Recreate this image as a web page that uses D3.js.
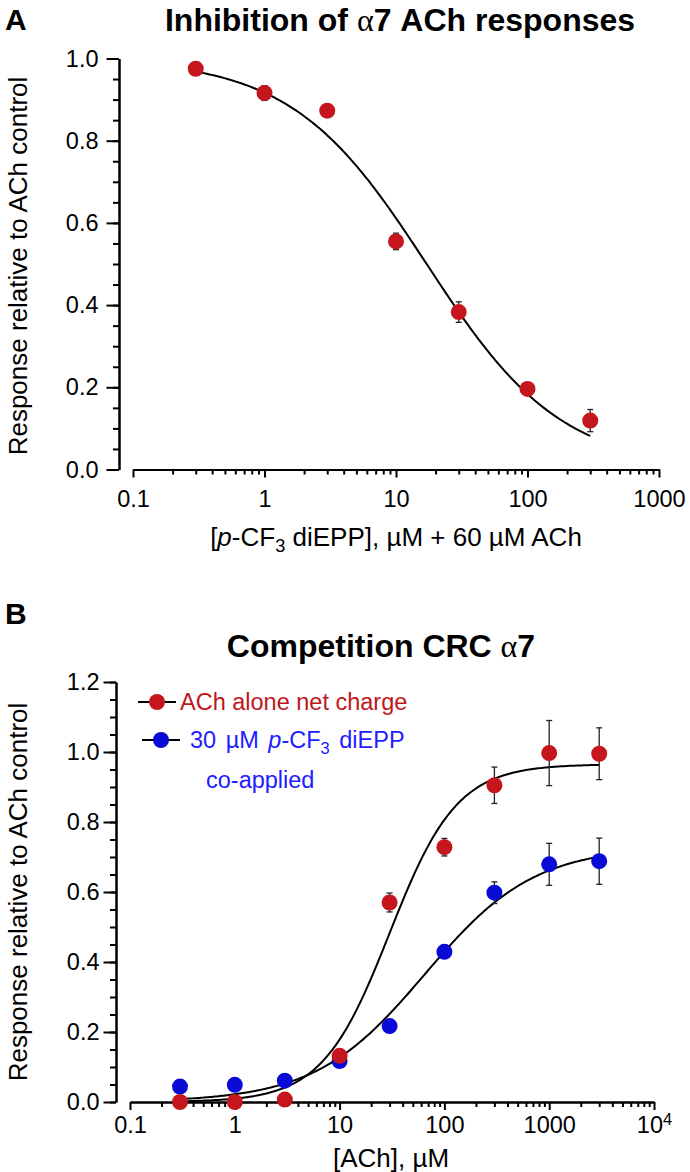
<!DOCTYPE html>
<html><head><meta charset="utf-8">
<script src="https://cdn.jsdelivr.net/npm/d3@7"></script>
<style>
body{margin:0;background:#fff;}
svg text{font-family:"Liberation Sans",Arial,Helvetica,sans-serif;fill:#000;}
.axis path,.axis line{stroke:#000;stroke-width:2;}
</style></head><body>
<svg id="c" width="690" height="1172"></svg>
<script>
// ---------- Panel A data ----------
const concA = [0.3, 1, 3, 10, 30, 100, 300];
const respA = [0.975, 0.916, 0.873, 0.555, 0.383, 0.196, 0.119];
const errA  = [0.013, 0.018, 0.0, 0.02, 0.025, 0.008, 0.027];
const fitA_ic50 = 17.1, fitA_hill = 0.845, fitA_top = 1.0;
const xTicksA = [0.1, 1, 10, 100, 1000];
const xTickLabelsA = ["0.1", "1", "10", "100", "1000"];
const yTicksA = [0, 0.2, 0.4, 0.6, 0.8, 1.0];

// ---------- Panel B data ----------
const concB = [0.3, 1, 3, 10, 30, 100, 300, 1000, 3000];
const achAlone    = [0.0, 0.0, 0.007, 0.132, 0.57, 0.728, 0.905, 0.997, 0.995];
const achAloneErr = [0, 0, 0, 0, 0.027, 0.025, 0.052, 0.093, 0.074];
const coApplied    = [0.044, 0.049, 0.061, 0.117, 0.217, 0.429, 0.598, 0.679, 0.688];
const coAppliedErr = [0, 0, 0, 0, 0, 0, 0.031, 0.06, 0.066];
const fitAlone_ec50 = 30, fitAlone_hill = 1.35, fitAlone_top = 0.965;
const fitCo_ec50 = 65, fitCo_hill = 0.83, fitCo_top = 0.73;
const xTicksB = [0.1, 1, 10, 100, 1000, 10000];
const xTickLabelsB = ["0.1", "1", "10", "100", "1000", "10^4"];
const yTicksB = [0, 0.2, 0.4, 0.6, 0.8, 1.0, 1.2];

const RED = "#c4161c", BLUE = "#0a0ad6";
const svg = d3.select("#c");

function minorLog(lo, hi){
  const out=[];
  for(let d=lo; d<hi; d*=10){ for(let k=2;k<=9;k++) out.push(d*k); }
  return out;
}
function logSamples(a,b,n){
  const la=Math.log10(a), lb=Math.log10(b);
  return d3.range(n+1).map(i=>Math.pow(10, la+(lb-la)*i/n));
}

function drawAxes(g, x, y, yAxisX, xTicks, xLabels, yTicks, yMax, opts){
  const y0 = y(0);
  g.append("g").attr("class","axis").attr("transform",`translate(${yAxisX},0)`)
    .call(d3.axisLeft(y).tickValues(d3.range(0, yMax+1e-9, 0.05)).tickSize(6).tickFormat("").tickSizeOuter(0));
  const ya = g.append("g").attr("class","axis").attr("transform",`translate(${yAxisX},0)`)
    .call(d3.axisLeft(y).tickValues(yTicks).tickSize(12.5).tickPadding(opts.yPad).tickFormat(d3.format(".1f")).tickSizeOuter(0));
  ya.selectAll("text").style("font-size", opts.tickFont+"px").style("font-family","Liberation Sans");
  const dom = x.domain();
  g.append("g").attr("class","axis").attr("transform",`translate(0,${y0})`)
    .call(d3.axisBottom(x).tickValues(minorLog(dom[0], dom[1])).tickSize(5).tickFormat("").tickSizeOuter(0));
  const xa = g.append("g").attr("class","axis").attr("transform",`translate(0,${y0})`)
    .call(d3.axisBottom(x).tickValues(xTicks).tickSize(8).tickPadding(opts.xPad)
      .tickFormat((d,i)=>xLabels[i]).tickSizeOuter(0));
  xa.selectAll("text").style("font-size", opts.tickFont+"px").style("font-family","Liberation Sans")
    .each(function(){
      const t=d3.select(this), s=t.text();
      if(s.indexOf("^")>0){
        const [b,e]=s.split("^");
        t.text(null);
        t.append("tspan").text(b);
        t.append("tspan").attr("dy","-0.45em").style("font-size","70%").text(e);
      }
    });
}

function drawSeries(g, x, y, xs, ys, es, color){
  const d = xs.map((v,i)=>({x:v,y:ys[i],e:es[i]}));
  const eb = g.append("g").attr("stroke","#222").attr("stroke-width",1.3);
  d.filter(p=>p.e>0).forEach(p=>{
    const cx=x(p.x), t=y(p.y+p.e), b=y(p.y-p.e);
    eb.append("line").attr("x1",cx).attr("x2",cx).attr("y1",t).attr("y2",b);
    eb.append("line").attr("x1",cx-3).attr("x2",cx+3).attr("y1",t).attr("y2",t);
    eb.append("line").attr("x1",cx-3).attr("x2",cx+3).attr("y1",b).attr("y2",b);
  });
  g.append("g").selectAll("circle").data(d).join("circle")
    .attr("cx",p=>x(p.x)).attr("cy",p=>y(p.y)).attr("r",8).attr("fill",color);
}

// ================= Panel A =================
{
  const g = svg.append("g");
  const x = d3.scaleLog().domain([0.1,1000]).range([133,659]);
  const y = d3.scaleLinear().domain([0,1]).range([469.5,58.5]);
  drawAxes(g, x, y, 119, xTicksA, xTickLabelsA, yTicksA, 1.0, {tickFont:23.5, yPad:8, xPad:13});
  const curve = logSamples(concA[0], concA[concA.length-1], 200)
    .map(c=>[c, fitA_top/(1+Math.pow(c/fitA_ic50, fitA_hill))]);
  g.append("path").datum(curve).attr("fill","none").attr("stroke","#000").attr("stroke-width",2)
    .attr("d", d3.line().x(d=>x(d[0])).y(d=>y(d[1])));
  drawSeries(g, x, y, concA, respA, errA, RED);

  svg.append("text").attr("x",5).attr("y",30)
    .style("font-weight","bold").style("font-size","30px").text("A");
  const t = svg.append("text").attr("x",400).attr("y",31).attr("text-anchor","middle")
    .style("font-weight","bold").style("font-size","32px");
  t.append("tspan").text("Inhibition of ");
  t.append("tspan").style("font-family","Liberation Serif").style("font-weight","normal").text("α");
  t.append("tspan").text("7 ACh responses");

  const xl = svg.append("text").attr("x",396).attr("y",546).attr("text-anchor","middle").style("font-size","26px");
  xl.append("tspan").text("[");
  xl.append("tspan").style("font-style","italic").text("p");
  xl.append("tspan").text("-CF");
  xl.append("tspan").attr("dy","0.35em").style("font-size","70%").text("3");
  xl.append("tspan").attr("dy","-0.245em").text(" diEPP], µM + 60 µM ACh");

  svg.append("text").attr("transform","translate(27,266) rotate(-90)").attr("text-anchor","middle")
    .style("font-size","26px").text("Response relative to ACh control");
}

// ================= Panel B =================
{
  const g = svg.append("g");
  const x = d3.scaleLog().domain([0.1,10000]).range([130,654]);
  const y = d3.scaleLinear().domain([0,1.2]).range([1102,682]);
  drawAxes(g, x, y, 116, xTicksB, xTickLabelsB, yTicksB, 1.2, {tickFont:23.5, yPad:4, xPad:6});
  const xsC = logSamples(concB[0], concB[concB.length-1], 240);
  const cA = xsC.map(c=>[c, fitAlone_top/(1+Math.pow(fitAlone_ec50/c, fitAlone_hill))]);
  const cC = xsC.map(c=>[c, fitCo_top/(1+Math.pow(fitCo_ec50/c, fitCo_hill))]);
  const ln = d3.line().x(d=>x(d[0])).y(d=>y(d[1]));
  g.append("path").datum(cA).attr("fill","none").attr("stroke","#000").attr("stroke-width",2).attr("d",ln);
  g.append("path").datum(cC).attr("fill","none").attr("stroke","#000").attr("stroke-width",2).attr("d",ln);
  drawSeries(g, x, y, concB, coApplied, coAppliedErr, BLUE);
  drawSeries(g, x, y, concB, achAlone, achAloneErr, RED);

  // legend
  const lg = svg.append("g");
  lg.append("line").attr("x1",138).attr("x2",176).attr("y1",702).attr("y2",702).attr("stroke","#000").attr("stroke-width",2);
  lg.append("circle").attr("cx",157).attr("cy",702).attr("r",8).attr("fill",RED);
  lg.append("text").attr("x",180).attr("y",710).style("font-size","23.5px").style("fill","#c0161c").text("ACh alone net charge");
  lg.append("line").attr("x1",142).attr("x2",180).attr("y1",740).attr("y2",740).attr("stroke","#000").attr("stroke-width",2);
  lg.append("circle").attr("cx",161).attr("cy",740).attr("r",8).attr("fill",BLUE);
  const bt = lg.append("text").attr("x",190).attr("y",748).style("font-size","23.5px").style("fill","#2020ff")
    .style("word-spacing","3px");
  bt.append("tspan").style("fill","#2020ff").text("30 µM ");
  bt.append("tspan").style("fill","#2020ff").style("font-style","italic").text("p");
  bt.append("tspan").style("fill","#2020ff").text("-CF");
  bt.append("tspan").style("fill","#2020ff").attr("dy","0.35em").style("font-size","70%").text("3");
  bt.append("tspan").style("fill","#2020ff").attr("dy","-0.245em").text(" diEPP");
  lg.append("text").attr("x",206).attr("y",788).style("font-size","23.5px").style("fill","#2020ff").text("co-applied");

  svg.append("text").attr("x",5).attr("y",624)
    .style("font-weight","bold").style("font-size","30px").text("B");
  const t = svg.append("text").attr("x",381).attr("y",657).attr("text-anchor","middle")
    .style("font-weight","bold").style("font-size","32px");
  t.append("tspan").text("Competition CRC ");
  t.append("tspan").style("font-family","Liberation Serif").style("font-weight","normal").text("α");
  t.append("tspan").text("7");

  svg.append("text").attr("x",391).attr("y",1167).attr("text-anchor","middle").style("font-size","26px").text("[ACh], µM");
  svg.append("text").attr("transform","translate(27,892) rotate(-90)").attr("text-anchor","middle")
    .style("font-size","26px").text("Response relative to ACh control");
}
</script>
</body></html>
